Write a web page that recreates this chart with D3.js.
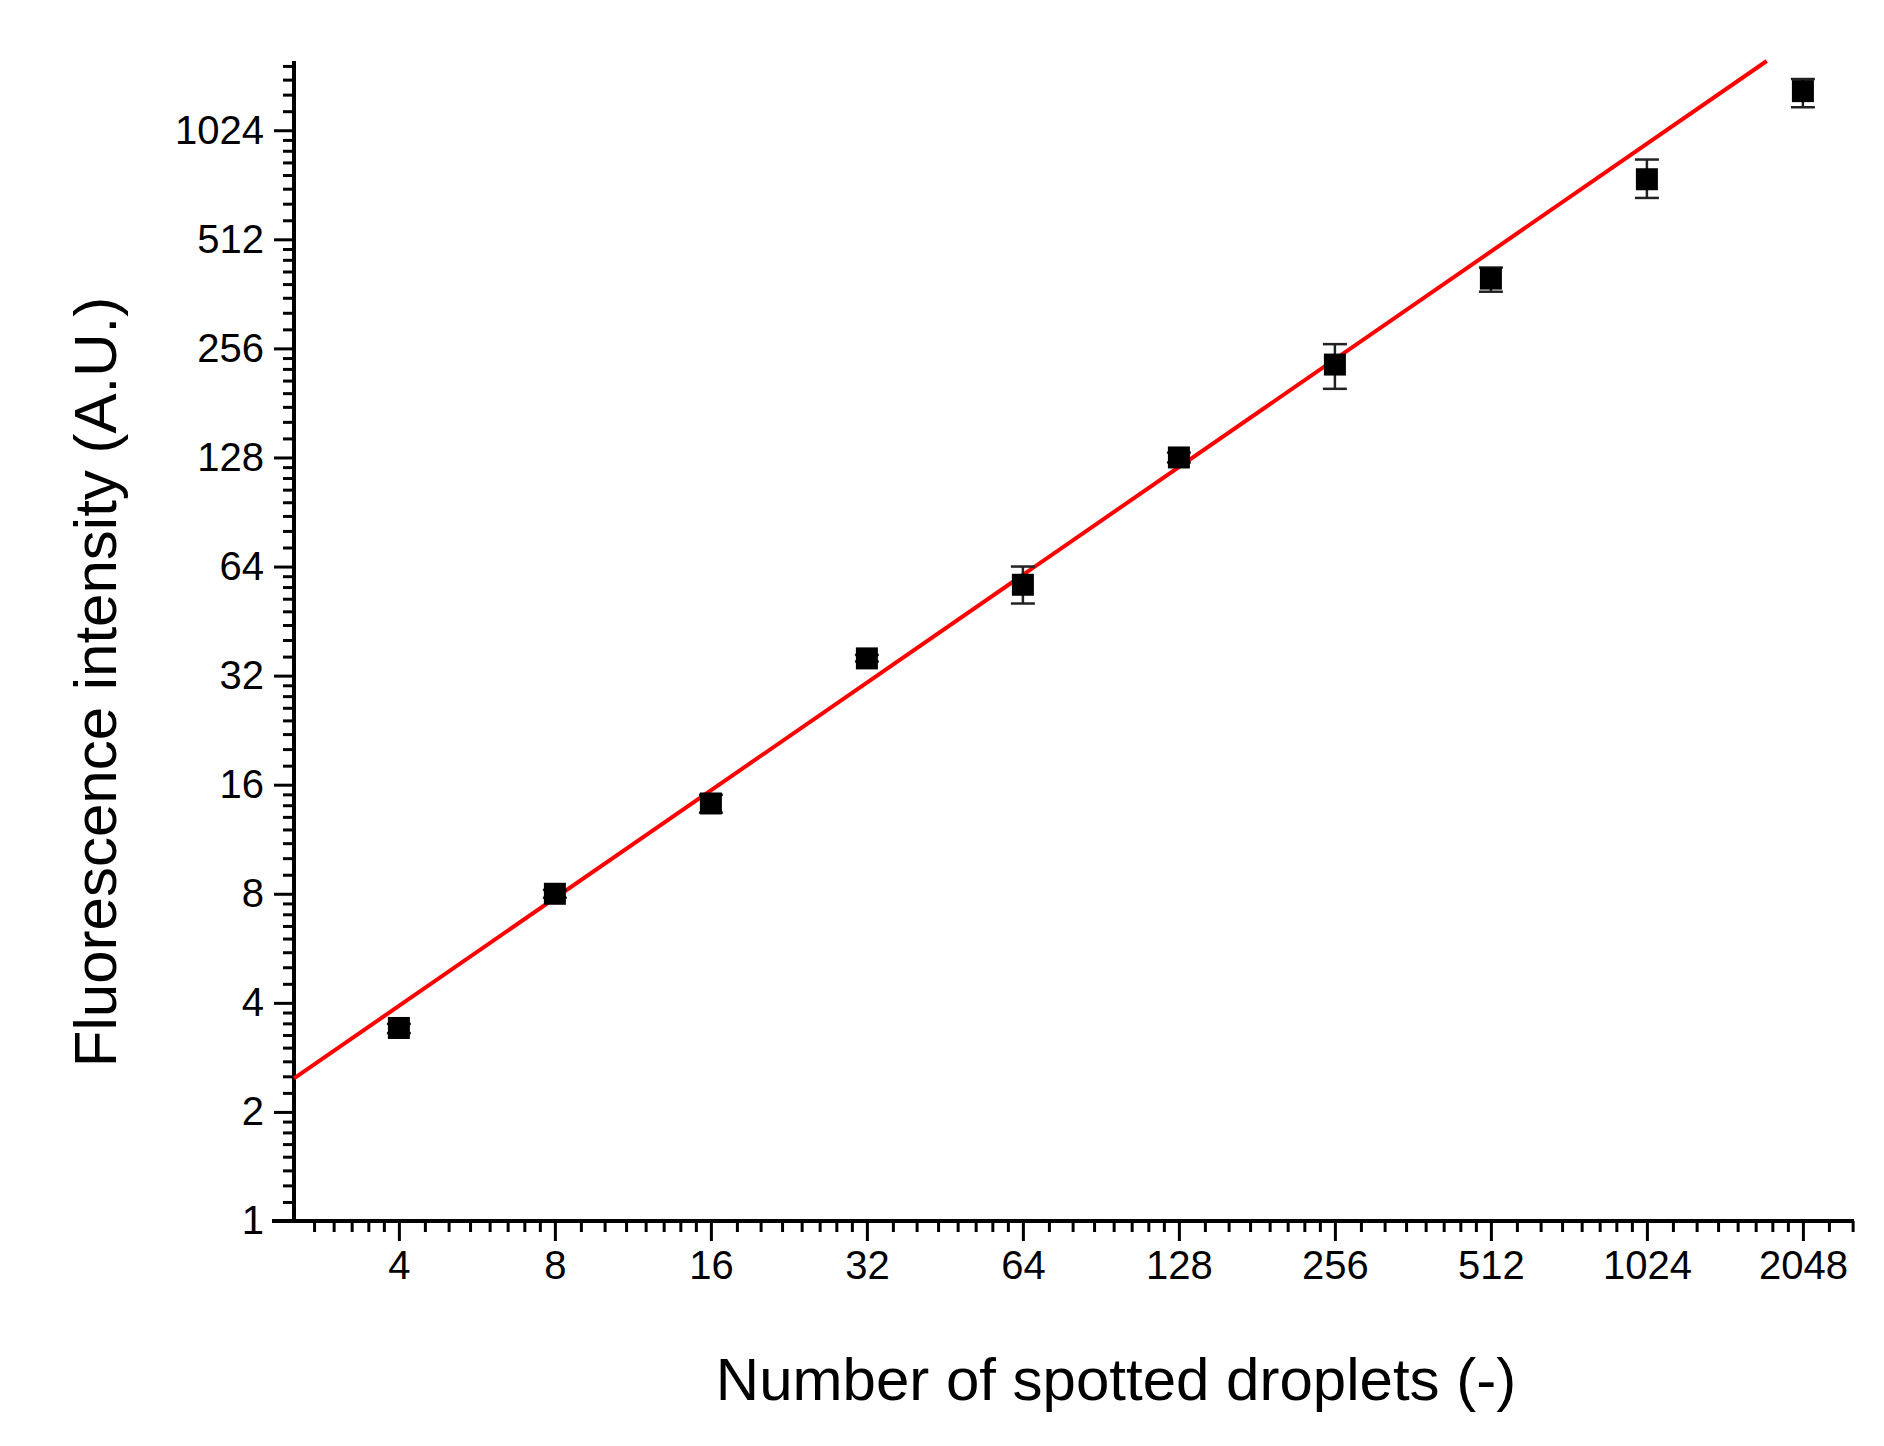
<!DOCTYPE html>
<html><head><meta charset="utf-8">
<script src="https://cdn.jsdelivr.net/npm/d3@7"></script>
<style>body{margin:0;background:#fff}text{font-family:"Liberation Sans",Arial,sans-serif}</style>
</head><body><svg id="c" width="1884" height="1446"></svg>
<script>
var xValues = [4, 8, 16, 32, 64, 128, 256, 512, 1024, 2048];
var yValues = [3.41, 8.0, 14.2, 35.7, 57, 128, 231, 399, 750, 1313];
var yLow  = [3.3, 7.8, 13.4, 35, 50.6, 124, 198, 367, 666, 1185];
var yHigh = [3.5, 8.2, 15.0, 36.5, 64, 132, 263, 428, 850, 1418];
var xTicks = [4, 8, 16, 32, 64, 128, 256, 512, 1024, 2048];
var yTicks = [1, 2, 4, 8, 16, 32, 64, 128, 256, 512, 1024];
var fit = {a: 1.31, b: 0.988, x0: 1.33}; // log2 y = a + b*(log2 x - x0)

var svg = d3.select("#c");
var pLeft = 294, pRight = 1854, pTop = 61, pBottom = 1221;
var x = d3.scaleLog().base(2).domain([2.51, 2570]).range([pLeft, pRight]);
var y = d3.scaleLog().base(2).domain([1, 1590]).range([pBottom, pTop]);

function minors(lo, hi) {
    var out = [];
    for (var n = -1; n < 13; n++) {
        for (var k = 1; k < 8; k++) {
            var v = Math.pow(2, n) * (1 + k / 8);
            if (v > lo && v < hi) out.push(v);
        }
    }
    return out;
}

var g = svg.append("g");
// minor ticks
g.selectAll(".mx").data(minors(2.51, 2570)).enter().append("line")
    .attr("x1", d => x(d)).attr("x2", d => x(d)).attr("y1", pBottom).attr("y2", pBottom + 11)
    .attr("stroke", "#000").attr("stroke-width", 3);
g.selectAll(".my").data(minors(1, 1590)).enter().append("line")
    .attr("y1", d => y(d)).attr("y2", d => y(d)).attr("x1", pLeft).attr("x2", pLeft - 11)
    .attr("stroke", "#000").attr("stroke-width", 3);

var xAxis = d3.axisBottom(x).tickValues(xTicks).tickFormat(d3.format("d")).tickSize(20).tickPadding(10);
var yAxis = d3.axisLeft(y).tickValues(yTicks).tickFormat(d3.format("d")).tickSize(20).tickPadding(10);
var gx = svg.append("g").attr("transform", "translate(0," + pBottom + ")").call(xAxis);
var gy = svg.append("g").attr("transform", "translate(" + pLeft + ",0)").call(yAxis);
[gx, gy].forEach(function(a) {
    a.select(".domain").remove();
    a.selectAll("line").attr("stroke-width", 3);
    a.selectAll("text").attr("font-size", 40).attr("fill", "#000");
});
svg.append("line").attr("x1", pLeft - 22).attr("x2", pRight).attr("y1", pBottom).attr("y2", pBottom)
    .attr("stroke", "#000").attr("stroke-width", 4);
svg.append("line").attr("x1", pLeft).attr("x2", pLeft).attr("y1", pTop).attr("y2", pBottom)
    .attr("stroke", "#000").attr("stroke-width", 4);

// fit line, clipped at plot top
function fitY(v) { return Math.pow(2, fit.a + fit.b * (Math.log2(v) - fit.x0)); }
var xEnd = Math.pow(2, fit.x0 + (Math.log2(1590) - fit.a) / fit.b);
svg.append("line")
    .attr("x1", x(2.51)).attr("y1", y(fitY(2.51)))
    .attr("x2", x(xEnd)).attr("y2", y(fitY(xEnd)))
    .attr("stroke", "#ff0000").attr("stroke-width", 4);

// error bars
var pts = xValues.map((v, i) => ({x: v, y: yValues[i], lo: yLow[i], hi: yHigh[i]}));
var eb = svg.append("g").attr("stroke", "#222").attr("stroke-width", 2.5);
pts.forEach(function(p) {
    eb.append("line").attr("x1", x(p.x)).attr("x2", x(p.x)).attr("y1", y(p.lo)).attr("y2", y(p.hi));
    [p.lo, p.hi].forEach(function(v) {
        eb.append("line").attr("x1", x(p.x) - 12).attr("x2", x(p.x) + 12).attr("y1", y(v)).attr("y2", y(v));
    });
});
svg.selectAll(".pt").data(pts).enter().append("rect")
    .attr("x", d => x(d.x) - 11).attr("y", d => y(d.y) - 11)
    .attr("width", 22).attr("height", 22).attr("fill", "#000");

svg.append("text").attr("x", 1116).attr("y", 1400).attr("text-anchor", "middle")
    .attr("font-size", 60).text("Number of spotted droplets (-)");
svg.append("text").attr("transform", "translate(116,682) rotate(-90)")
    .attr("text-anchor", "middle").attr("font-size", 60).text("Fluorescence intensity (A.U.)");
</script></body></html>
